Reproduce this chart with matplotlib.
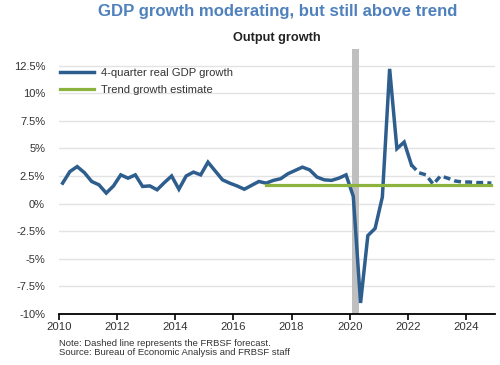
import matplotlib
matplotlib.use("Agg")
import matplotlib.pyplot as plt
import numpy as np

plt.rcParams['font.family'] = ['Liberation Sans', 'DejaVu Sans']

# Quarterly 4-quarter real GDP growth, 2010Q1 .. 2022Q1 (actual)
actual = [1.85, 2.9, 3.35, 2.8,
          2.0, 1.7, 0.95, 1.6,
          2.6, 2.3, 2.6, 1.55,
          1.6, 1.25, 1.9, 2.5,
          1.3, 2.5, 2.85, 2.6,
          3.75, 2.95, 2.15, 1.85,
          1.6, 1.3, 1.65, 2.0,
          1.85, 2.1, 2.25, 2.7,
          3.0, 3.3, 3.05, 2.4,
          2.15, 2.1, 2.3, 2.6,
          0.65, -9.0, -2.9, -2.25,
          0.6, 12.2, 4.97, 5.57,
          3.5]
# FRBSF forecast, 2022Q1 .. 2024Q4
forecast = [3.5, 2.8, 2.6, 1.75,
            2.5, 2.3, 2.05, 1.95,
            1.95, 1.9, 1.9, 1.85]
trend_value = 1.7
trend_start_q = 28   # 2017Q1 (quarters since 2010Q1)
trend_end_q = 59     # 2024Q4
recession = (2020.083, 2020.33)

def qpos(i):
    return 2010 + 0.125 + 0.25 * i

x_act = np.array([qpos(i) for i in range(len(actual))])
x_fc = np.array([qpos(i) for i in range(len(actual) - 1, len(actual) - 1 + len(forecast))])

blue = '#2D5E8E'
green = '#8DB33F'

fig = plt.figure(figsize=(5, 3.65), dpi=100)
ax = fig.add_axes([0.118, 0.1397, 0.872, 0.7261])

ax.axvspan(recession[0], recession[1], color='#BFBFBF', lw=0, zorder=1)

for y in np.arange(-7.5, 12.6, 2.5):
    ax.axhline(y, color='#E3E3E3', lw=1.0, zorder=0)

ax.plot(x_act, actual, color=blue, lw=2.5, zorder=3, solid_joinstyle='miter',
        label='4-quarter real GDP growth')
ax.plot(x_fc, forecast, color=blue, lw=2.5, zorder=3, dashes=(2, 1.2),
        dash_capstyle='butt')
ax.plot([qpos(trend_start_q), qpos(trend_end_q)], [trend_value, trend_value],
        color=green, lw=2.3, zorder=4, label='Trend growth estimate')

ax.set_xlim(2010, 2025)
ax.set_ylim(-10, 14)
ax.set_yticks(np.arange(-10, 12.6, 2.5))
ax.set_yticklabels(['-10%', '-7.5%', '-5%', '-2.5%', '0%', '2.5%', '5%', '7.5%', '10%', '12.5%'])
ax.set_xticks(range(2010, 2025, 2))

for s in ['top', 'right', 'left']:
    ax.spines[s].set_visible(False)
ax.spines['bottom'].set_color('black')
ax.spines['bottom'].set_linewidth(1.3)
ax.tick_params(axis='y', length=0, pad=10, labelsize=8, labelcolor='#333333')
ax.tick_params(axis='x', length=4, width=1.2, color='black', pad=2, labelsize=8.2,
               labelcolor='#333333')

leg = ax.legend(loc='upper left', bbox_to_anchor=(0.0025, 0.93), frameon=False,
                fontsize=8.1, handlelength=3.0, handletextpad=0.6, labelspacing=0.67,
                borderaxespad=0, borderpad=0)
for t in leg.get_texts():
    t.set_color('#333333')

fig.text(0.555, 0.969, 'GDP growth moderating, but still above trend', ha='center', va='center',
         fontsize=12.1, fontweight='bold', color='#4F81BD')
fig.text(0.553, 0.896, 'Output growth', ha='center', va='center', fontsize=9.2,
         fontweight='bold', color='#222222')
fig.text(0.118, 0.060, 'Note: Dashed line represents the FRBSF forecast.', ha='left', va='center',
         fontsize=6.8, color='#333333')
fig.text(0.118, 0.033, 'Source: Bureau of Economic Analysis and FRBSF staff', ha='left', va='center',
         fontsize=6.8, color='#333333')

fig.savefig('out.png', dpi=100)
